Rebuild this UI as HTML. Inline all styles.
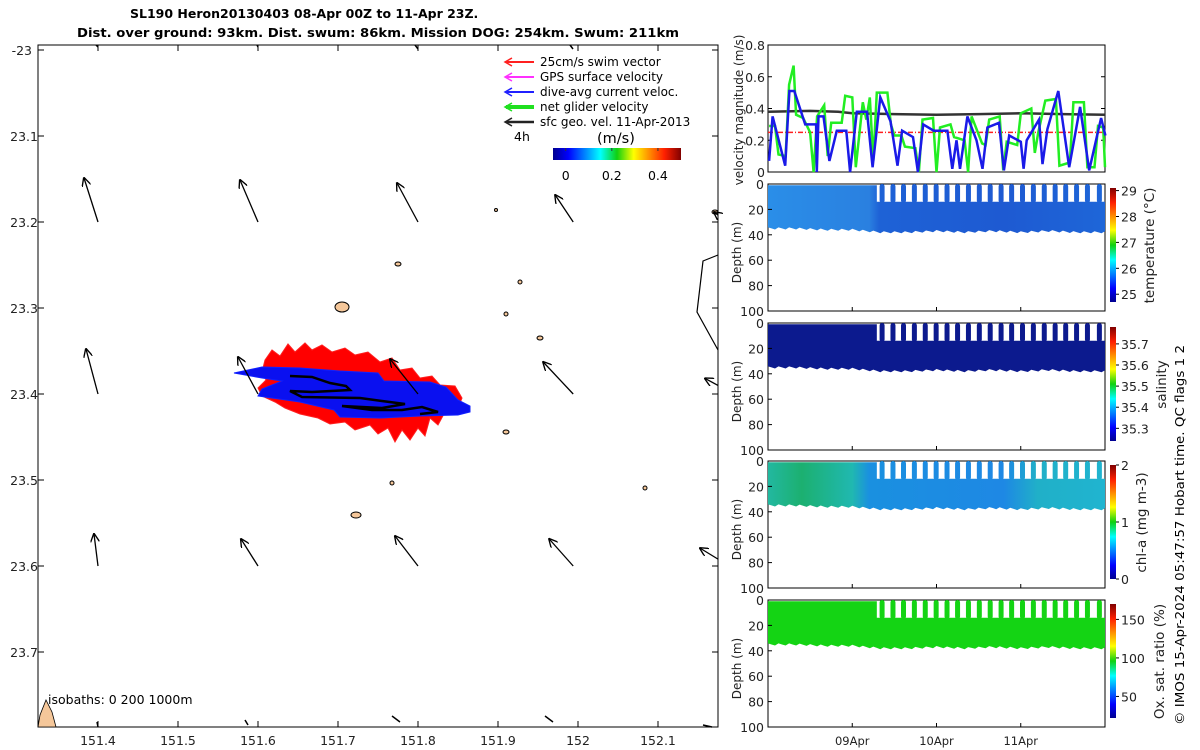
<!DOCTYPE html>
<html><head><meta charset="utf-8">
<style>
html,body{margin:0;padding:0;background:#fff;}
svg{display:block;font-family:"DejaVu Sans","Liberation Sans",sans-serif;}
</style></head>
<body>
<svg id="fig" width="1200" height="750" viewBox="0 0 1200 750">
<defs>
<linearGradient id="jetV" x1="0" y1="1" x2="0" y2="0">
<stop offset="0" stop-color="#00008f"/><stop offset="0.12" stop-color="#0000ff"/><stop offset="0.37" stop-color="#00ffff"/><stop offset="0.5" stop-color="#10d010"/><stop offset="0.63" stop-color="#ffff00"/><stop offset="0.87" stop-color="#ff2000"/><stop offset="1" stop-color="#800000"/>
</linearGradient>
<linearGradient id="jetH" x1="0" y1="0" x2="1" y2="0">
<stop offset="0" stop-color="#00008f"/><stop offset="0.12" stop-color="#0000ff"/><stop offset="0.37" stop-color="#00ffff"/><stop offset="0.5" stop-color="#10d010"/><stop offset="0.63" stop-color="#ffff00"/><stop offset="0.87" stop-color="#ff2000"/><stop offset="1" stop-color="#800000"/>
</linearGradient>
<linearGradient id="tempG" x1="768" y1="0" x2="1105" y2="0" gradientUnits="userSpaceOnUse">
<stop offset="0" stop-color="#2a8ee8"/><stop offset="0.3" stop-color="#2a80e0"/><stop offset="0.33" stop-color="#1e62d6"/><stop offset="0.7" stop-color="#1e5ad2"/><stop offset="1" stop-color="#1e66d8"/>
</linearGradient>
<linearGradient id="chlG" x1="768" y1="0" x2="1105" y2="0" gradientUnits="userSpaceOnUse">
<stop offset="0" stop-color="#22b8a0"/><stop offset="0.1" stop-color="#1cb070"/><stop offset="0.25" stop-color="#20b8b0"/><stop offset="0.3" stop-color="#1a90e0"/><stop offset="0.7" stop-color="#1e88e4"/><stop offset="0.8" stop-color="#20b0c8"/><stop offset="1" stop-color="#20b4d0"/>
</linearGradient>
<marker id="ah" viewBox="0 0 10 10" refX="9" refY="5" markerWidth="7" markerHeight="7" orient="auto-start-reverse"><path d="M0,0 L10,5 L0,10" fill="none" stroke="#000" stroke-width="1.5"/></marker>
</defs>

<text x="130" y="18" font-size="12.5" font-weight="bold">SL190 Heron20130403 08-Apr 00Z to 11-Apr 23Z.</text>
<text x="77" y="37" font-size="12.5" font-weight="bold" textLength="602" lengthAdjust="spacingAndGlyphs">Dist. over ground: 93km. Dist. swum: 86km. Mission DOG: 254km. Swum: 211km</text>

<g id="map"></g>
<g id="vel"></g>
<g id="prof"></g>

<text transform="translate(1184,535) rotate(-90)" text-anchor="middle" font-size="12.5" textLength="380" lengthAdjust="spacingAndGlyphs">© IMOS 15-Apr-2024 05:47:57 Hobart time. QC flags 1  2</text>
</svg>
<script>
// ---------- data ----------
const lonTicks=[151.4,151.5,151.6,151.7,151.8,151.9,152,152.1];
const latTicks=[-23,-23.1,-23.2,-23.3,-23.4,-23.5,-23.6,-23.7];
const qLon=[151.4,151.6,151.8,151.994,152.175, 151.4,151.6,151.8,151.994,152.175, 151.4,151.6,151.8,151.994,152.175];
const qLat=[-23.2,-23.2,-23.2,-23.2,-23.192, -23.4,-23.4,-23.4,-23.4,-23.39, -23.6,-23.6,-23.6,-23.6,-23.592];
const qU=[-0.14,-0.18,-0.21,-0.18,-0.04, -0.12,-0.2,-0.28,-0.3,-0.13, -0.04,-0.17,-0.23,-0.24,-0.18];
const qV=[0.44,0.42,0.39,0.27,0.03, 0.45,0.37,0.35,0.32,0.07, 0.32,0.27,0.3,0.27,0.11];
const velTicks=[0,0.2,0.4,0.6,0.8];
const blueH=[0.3,1.3,4.9,6.1,7.5,10.6,13.7,13.9,14.4,15.8,17.5,19.6,22.3,23.4,25.3,28.2,29.8,32,34.9,36.9,38.2,41.3,42.7,44.2,47.2,51.1,52.5,53.7,54.7,56.8,59.4,61.1,62.5,65.8,67.2,68.7,72,72.8,73.7,77.2,78.2,79.6,82.7,85.8,88.9,91.5,94.9,96.1];
const blueV=[0.07,0.35,0.04,0.51,0.51,0.3,0.3,0,0.35,0.35,0.07,0.26,0.26,0,0.38,0.38,0.03,0.47,0.32,0.04,0.26,0.22,0,0.3,0.26,0.26,0.02,0.2,0.02,0.35,0.2,0.02,0.28,0.31,0.01,0.23,0.19,0.02,0.2,0.33,0.05,0.27,0.51,0.03,0.41,0.01,0.34,0.23];
const greenH=[0.3,2,3,5,6,7.3,8,10,12,13,14,16,17,18,21,22,24,25,27,28,29,30,31,34,35,36,38,39,42,43,44,47,48,49,52,53,56,57,58,61,62,63,66,67,68,71,72,75,76,77,79,82,83,86,87,90,91,93,94,95.5,96];
const greenV=[0.29,0.29,0.11,0.1,0.55,0.67,0.36,0.34,0.25,0,0.35,0.42,0.1,0.31,0.31,0.48,0.47,0.03,0.44,0.33,0.47,0.07,0.5,0.5,0.3,0.23,0.23,0.16,0.15,0,0.33,0.34,0,0.28,0.3,0.22,0.2,0,0.35,0.18,0.17,0.33,0.35,0.01,0.19,0.17,0.37,0.4,0.12,0.25,0.45,0.46,0.04,0.06,0.44,0.44,0.03,0.03,0.29,0.28,0.03];
const geoH=[0,12,20,24,36,48,60,72,84,96];
const geoV=[0.38,0.385,0.38,0.37,0.365,0.36,0.365,0.37,0.365,0.36];
const swimV=0.25;
const dayTicks=[24,48,72];
const dayLabels=["09Apr","10Apr","11Apr"];
const depthTicks=[0,20,40,60,80,100];
const toothH=[32.5,35.6,38.6,41.7,44.8,47.9,51,54,57.1,60.2,63.3,66.4,69.4,72.5,75.6,78.7,81.8,84.8,87.9,91,94.4];
const bottomH=[0,8,16,24,32,40,48,56,64,72,80,88,96];
const bottomD=[35,35,36,36,38,38,37,38,37,38,37,38,38];
const gapTop=14;
const tempTicks=[25,26,27,28,29]; const tempRange=[24.7,29.1];
const salTicks=[35.3,35.4,35.5,35.6,35.7]; const salRange=[35.24,35.78];
const chlTicks=[0,1,2]; const chlRange=[0,2];
const oxTicks=[50,100,150]; const oxRange=[22,170];
const cbTicks=[0,0.2,0.4]; const cbRange=[-0.055,0.5];

// ---------- helpers ----------
const NS="http://www.w3.org/2000/svg";
function mk(parent,tag,attrs,text){const e=document.createElementNS(NS,tag);for(const k in attrs)e.setAttribute(k,attrs[k]);if(text!==undefined)e.textContent=text;parent.appendChild(e);return e;}
const mx=lon=>98+(lon-151.4)*800;
const my=lat=>50+(-23-lat)*860;

// ---------- map ----------
const map=document.getElementById('map');
let e;
e=mk(map,'rect',{x:38,y:45,width:680,height:682,fill:'#fff',stroke:'#000','stroke-width':1});

e=mk(map,'polyline',{points:'718,255 703,261 697,312 718,350',fill:'none',stroke:'#000','stroke-width':1.2});

const reefs=[[342,307,7,5],[398,264,3,2],[520,282,2,2],[506,314,2,2],[540,338,3,2],[506,432,3,2],[392,483,2,2],[356,515,5,3],[645,488,2,2],[496,210,1.5,1.5],[715,212,3,2]];
reefs.forEach(r=>{e=mk(map,'ellipse',{cx:r[0],cy:r[1],rx:r[2],ry:r[3],fill:'#f5c79a',stroke:'#000','stroke-width':1});
});
e=mk(map,'path',{d:'M38,727 L40,715 L46,700 L52,712 L56,727 Z',fill:'#f5c79a',stroke:'#000','stroke-width':0.8});

e=mk(map,'polygon',{points:'265,360 272,350 280,356 288,344 295,352 305,343 312,350 322,345 332,352 345,348 355,355 368,352 380,362 392,358 400,370 412,368 420,378 432,376 440,385 455,386 462,398 458,408 445,412 438,425 430,418 425,436 418,428 410,440 402,430 395,442 388,428 378,434 370,425 355,430 345,422 330,424 318,418 300,414 285,408 275,402 262,396 258,388 266,380 262,372',fill:'#ff0000',stroke:'#ff2020','stroke-width':1});

e=mk(map,'polygon',{points:'234,373 262,367 300,368 340,371 378,373 384,381 430,382 446,387 458,400 470,406 470,412 458,415 420,416 380,418 340,417 334,410 300,402 258,396 262,389 282,381 262,378',fill:'#0a10f0',stroke:'#1020ff','stroke-width':1});

e=mk(map,'polyline',{points:'290,376 312,377 330,383 346,386 350,390 312,392 290,391 302,397 360,398 382,401 405,404 382,408 342,406 372,410 402,410 422,407 438,412 420,414',fill:'none',stroke:'#000','stroke-width':2.5});

for(let i=0;i<qLon.length;i++){const x0=mx(qLon[i]),y0=my(qLat[i]);
e=mk(map,'line',{x1:x0,y1:y0,x2:x0+qU[i]*100,y2:y0-qV[i]*100,stroke:'#000','stroke-width':1.3,'marker-end':'url(#ah)'});
}
[[98,47,96,45],[258,47,257,45],[418,49,415,45],[573,49,570,45],[98,727,97,722],[248,725,245,720],[400,722,392,716],[553,722,545,716],[712,727,703,725]].forEach(a=>{
e=mk(map,'line',{x1:a[0],y1:a[1],x2:a[2],y2:a[3],stroke:'#000','stroke-width':1.5});
});
lonTicks.forEach(v=>{const x=mx(v);
mk(map,'line',{x1:x,y1:727,x2:x,y2:721,stroke:'#000'});mk(map,'line',{x1:x,y1:45,x2:x,y2:51,stroke:'#000'});
e=mk(map,'text',{x:x,y:745,'text-anchor':'middle','font-size':12.5,fill:'#222'},String(v));
});
latTicks.forEach(v=>{const y=my(v);
mk(map,'line',{x1:38,y1:y,x2:44,y2:y,stroke:'#000'});mk(map,'line',{x1:718,y1:y,x2:712,y2:y,stroke:'#000'});
e=mk(map,'text',{x:v===-23?32:38,y:y+5,'text-anchor':'end','font-size':12.5,fill:'#222'},v===-23?'-23':String(-v));
});
e=mk(map,'text',{x:48,y:704,'font-size':12.5},'isobaths: 0   200   1000m');

const leg=[['#ff2020','25cm/s swim vector',1],['#ff30ff','GPS surface velocity',1],['#2020ff','dive-avg current veloc.',1],['#20e020','net glider velocity',3],['#222','sfc geo. vel. 11-Apr-2013',1.5]];
leg.forEach((l,i)=>{const y=62+i*15;
e=mk(map,'line',{x1:534,y1:y,x2:506,y2:y,stroke:l[0],'stroke-width':l[2]+1});

mk(map,'path',{d:`M512,${y-4} L505,${y} L512,${y+4}`,fill:'none',stroke:l[0],'stroke-width':1.5});
e=mk(map,'text',{x:540,y:y+4,'font-size':12},l[1]);
});
e=mk(map,'text',{x:514,y:141,'font-size':12.5},'4h');
e=mk(map,'text',{x:597,y:143,'font-size':14.5},'(m/s)');
const cbx=v=>553+(v-cbRange[0])/(cbRange[1]-cbRange[0])*128;
e=mk(map,'rect',{x:553,y:148,width:128,height:12,fill:'url(#jetH)'});
cbTicks.forEach(v=>{const x=cbx(v);mk(map,'line',{x1:x,y1:148,x2:x,y2:151,stroke:'#333'});
e=mk(map,'text',{x:x,y:180,'text-anchor':'middle','font-size':12.5},String(v));});

// ---------- velocity panel ----------
const vel=document.getElementById('vel');
const X0=768,X1=1105;
const tx=h=>X0+h*(X1-X0)/96;
const vy=v=>172-v*(172-45)/0.8;
e=mk(vel,'rect',{x:X0,y:45,width:X1-X0,height:127,fill:'#fff',stroke:'#000'});
velTicks.forEach(v=>{const y=vy(v);mk(vel,'line',{x1:X0,y1:y,x2:X0+4,y2:y,stroke:'#000'});mk(vel,'line',{x1:X1,y1:y,x2:X1-4,y2:y,stroke:'#000'});
e=mk(vel,'text',{x:765,y:y+5,'text-anchor':'end','font-size':12.5,fill:'#222'},String(v));});
e=mk(vel,'line',{x1:tx(0),y1:vy(swimV),x2:tx(96),y2:vy(swimV),stroke:'#ff2020','stroke-width':1.5,'stroke-dasharray':'5,2,1,2'});
const pl=(H,V)=>H.map((h,i)=>tx(h).toFixed(1)+','+vy(V[i]).toFixed(1)).join(' ');
e=mk(vel,'polyline',{points:pl(geoH,geoV),fill:'none',stroke:'#333','stroke-width':2.5});
e=mk(vel,'polyline',{points:pl(greenH,greenV),fill:'none',stroke:'#22ee22','stroke-width':2.5});
e=mk(vel,'polyline',{points:pl(blueH,blueV),fill:'none',stroke:'#1a1ae8','stroke-width':2.5});
e=mk(vel,'text',{transform:'translate(743,110) rotate(-90)','text-anchor':'middle','font-size':12,fill:'#222'},'velocity magnitude (m/s)');

// ---------- profile panels ----------
const prof=document.getElementById('prof');
const panels=[
 {top:184,fill:'url(#tempG)',label:'temperature (°C)',ticks:tempTicks,range:tempRange,lx:1154,name:'temperature'},
 {top:323,fill:'#0c1a8e',label:'salinity',ticks:salTicks,range:salRange,lx:1166,name:'salinity'},
 {top:461,fill:'url(#chlG)',label:'chl-a (mg m-3)',ticks:chlTicks,range:chlRange,lx:1146,name:'chlorophyll'},
 {top:600,fill:'#14d414',label:'Ox. sat. ratio (%)',ticks:oxTicks,range:oxRange,lx:1164,name:'oxygen'}];
function interpBottom(h){for(let i=0;i<bottomH.length-1;i++){if(h<=bottomH[i+1]){const f=(h-bottomH[i])/(bottomH[i+1]-bottomH[i]);return bottomD[i]+f*(bottomD[i+1]-bottomD[i]);}}return bottomD[bottomD.length-1];}
panels.forEach((p,pi)=>{
 const H=127, dy=d=>p.top+d*H/100;
 e=mk(prof,'rect',{x:X0,y:p.top,width:X1-X0,height:H,fill:'#fff',stroke:'#000'});
 let pts=[];const firstTooth=toothH[0]-1.5;
 pts.push(tx(0)+','+dy(1));pts.push(tx(firstTooth)+','+dy(1));pts.push(tx(firstTooth)+','+dy(gapTop));pts.push(tx(96)+','+dy(gapTop));
 for(let h=96;h>=0;h-=1){pts.push(tx(h).toFixed(1)+','+dy(interpBottom(h)+((h*7)%3-1)*0.8).toFixed(1));}
 e=mk(prof,'polygon',{points:pts.join(' '),fill:p.fill});
 toothH.forEach(h=>{e=mk(prof,'rect',{x:tx(h)-2.5,y:dy(0),width:5,height:dy(gapTop+1)-dy(0),rx:2.5,fill:p.fill});
 });
 depthTicks.forEach(d=>{const y=dy(d);mk(prof,'line',{x1:X0,y1:y,x2:X0+4,y2:y,stroke:'#000'});
 e=mk(prof,'text',{x:764,y:y+5,'text-anchor':'end','font-size':12.5,fill:'#222'},String(d));});
 dayTicks.forEach(h=>{mk(prof,'line',{x1:tx(h),y1:p.top+H,x2:tx(h),y2:p.top+H-4,stroke:'#000'});});
 e=mk(prof,'text',{transform:`translate(741,${p.top+H/2+5}) rotate(-90)`,'text-anchor':'middle','font-size':12,fill:'#222'},'Depth (m)');
 const cT=p.top+4,cB=p.top+H-9,cy=v=>cB-(v-p.range[0])/(p.range[1]-p.range[0])*(cB-cT);
 e=mk(prof,'rect',{x:1110,y:cT,width:6,height:cB-cT,fill:'url(#jetV)'});
 p.ticks.forEach(v=>{const y=cy(v);mk(prof,'line',{x1:1116,y1:y,x2:1119,y2:y,stroke:'#000'});
 e=mk(prof,'text',{x:1121,y:y+5,'font-size':12.5,fill:'#222'},String(v));});
 e=mk(prof,'text',{transform:`translate(${p.lx},${p.top+H/2-2}) rotate(-90)`,'text-anchor':'middle','font-size':13.5,fill:'#222'},p.label);
});
dayTicks.forEach((h,i)=>{e=mk(prof,'text',{x:tx(h),y:745,'text-anchor':'middle','font-size':11.5,fill:'#222'},dayLabels[i]);});
</script>
</body></html>
